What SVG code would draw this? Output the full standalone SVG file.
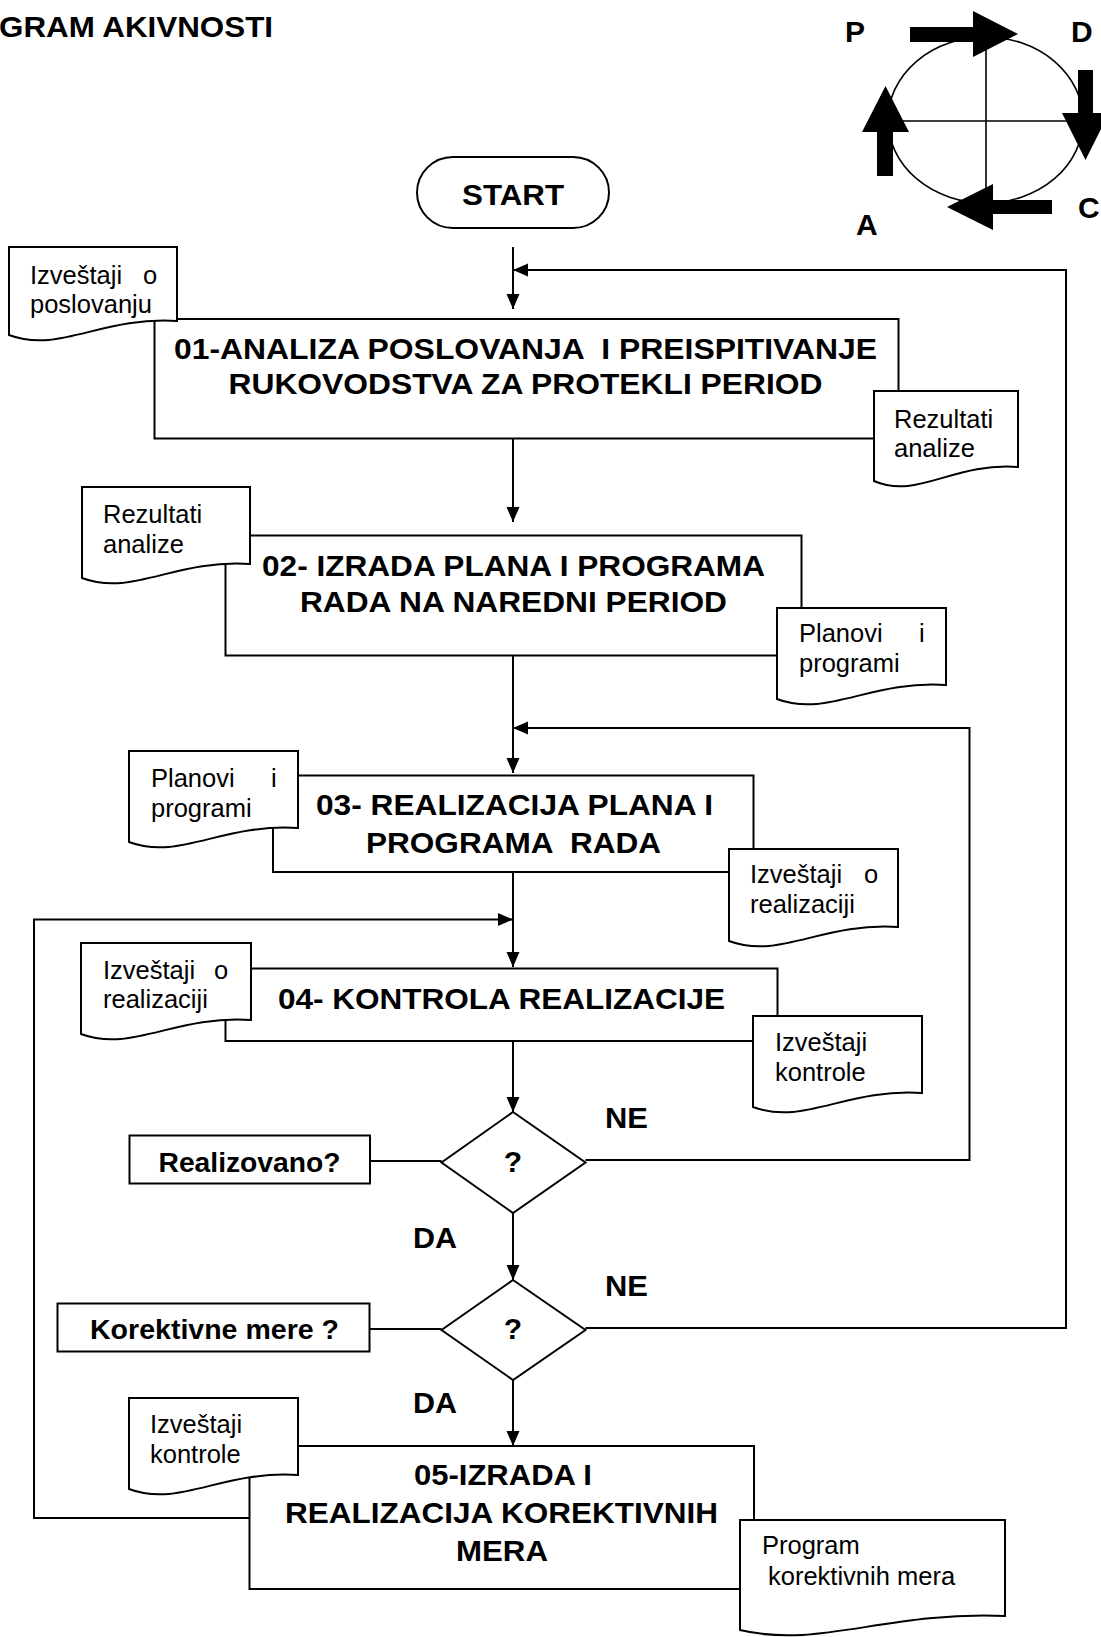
<svg xmlns="http://www.w3.org/2000/svg" width="1101" height="1637" viewBox="0 0 1101 1637">
<style>
.ln{fill:none;stroke:#000;stroke-width:2}
.bx{fill:#fff;stroke:#000;stroke-width:2}
.doc{fill:#fff;stroke:#000;stroke-width:2}
.t{font-family:"Liberation Sans",Arial,sans-serif;fill:#000}
.b{font-weight:bold;font-size:30px}
.d{font-size:25.5px}
.c{text-anchor:middle}
.blk{fill:#000;stroke:none}
.pl{font-weight:bold;font-size:30px}
</style>
<defs>
<marker id="ah" markerUnits="userSpaceOnUse" markerWidth="16" markerHeight="14" refX="15" refY="6.5" orient="auto">
<path d="M0,0 L15,6.5 L0,13 Z" fill="#000"/>
</marker>
</defs>
<rect width="1101" height="1637" fill="#fff"/>
<text class="t b" x="-1" y="37" textLength="274" lengthAdjust="spacingAndGlyphs">GRAM AKIVNOSTI</text>

<g id="pdca">
<ellipse cx="985.5" cy="120" rx="97.5" ry="83" fill="none" stroke="#000" stroke-width="1.6"/>
<line x1="986" y1="45" x2="986" y2="200" stroke="#000" stroke-width="1.6"/>
<line x1="888" y1="121" x2="1083" y2="121" stroke="#000" stroke-width="1.6"/>
<path class="blk" d="M910,27 H973 V11 L1018,34 L973,57 V42 H910 Z"/>
<path class="blk" d="M1078,70 H1093 V113 H1109 L1085.5,160 L1062,113 H1078 Z"/>
<path class="blk" d="M1052,200 V214 H993 V230 L947,207 L993,184 V200 Z"/>
<path class="blk" d="M877,176 V132 H862 L885.5,86 L909,132 H893 V176 Z"/>
<text class="t pl" x="845" y="42">P</text>
<text class="t pl" x="1071" y="42">D</text>
<text class="t pl" x="1078" y="218">C</text>
<text class="t pl" x="856" y="235">A</text>
</g>

<g id="connectors">
<path class="ln" d="M513,247 V309" marker-end="url(#ah)"/>
<path class="ln" d="M513,438.5 V522" marker-end="url(#ah)"/>
<path class="ln" d="M513,655.5 V773" marker-end="url(#ah)"/>
<path class="ln" d="M513,872 V967" marker-end="url(#ah)"/>
<path class="ln" d="M513,1041 V1112" marker-end="url(#ah)"/>
<path class="ln" d="M513,1213 V1280" marker-end="url(#ah)"/>
<path class="ln" d="M513,1380 V1446" marker-end="url(#ah)"/>
<path class="ln" d="M585.5,1328 H1066 V270 H513" marker-end="url(#ah)"/>
<path class="ln" d="M585.5,1160 H969.5 V728 H513" marker-end="url(#ah)"/>
<path class="ln" d="M249.5,1518 H34 V919.5 H513" marker-end="url(#ah)"/>
<path class="ln" d="M370,1161 H441.5"/>
<path class="ln" d="M369.5,1329 H441.5"/>
</g>

<g id="start">
<rect class="bx" x="417" y="157" width="192" height="71" rx="36"/>
<text class="t b c" x="513" y="205" textLength="102" lengthAdjust="spacingAndGlyphs">START</text>
</g>

<g id="n01">
<rect class="bx" x="154.5" y="319" width="744" height="119.5"/>
<text class="t b c" x="525.5" y="359" textLength="703" lengthAdjust="spacingAndGlyphs" style="white-space:pre">01-ANALIZA POSLOVANJA  I PREISPITIVANJE</text>
<text class="t b c" x="525.5" y="394" textLength="594" lengthAdjust="spacingAndGlyphs">RUKOVODSTVA ZA PROTEKLI PERIOD</text>
</g>
<g id="doc-izv-poslovanju">
<path class="doc" d="M9,247 H177 V321 C101.4,316 59.4,354 9,335 Z"/>
<text class="t d" x="30" y="284">Izveštaji <tspan x="143">o</tspan></text>
<text class="t d" x="30" y="313">poslovanju</text>
</g>
<g id="doc-rez-analize-1">
<path class="doc" d="M874,391 H1018 V467 C953.2,462 917.2,500 874,481 Z"/>
<text class="t d" x="894" y="428">Rezultati</text>
<text class="t d" x="894" y="457">analize</text>
</g>

<g id="n02">
<rect class="bx" x="225.5" y="535.5" width="576" height="120"/>
<text class="t b c" x="513.5" y="576" textLength="503" lengthAdjust="spacingAndGlyphs">02- IZRADA PLANA I PROGRAMA</text>
<text class="t b c" x="513.5" y="612" textLength="427" lengthAdjust="spacingAndGlyphs">RADA NA NAREDNI PERIOD</text>
</g>
<g id="doc-rez-analize-2">
<path class="doc" d="M82,487 H250 V564 C174.4,559 132.4,597 82,578 Z"/>
<text class="t d" x="103" y="523">Rezultati</text>
<text class="t d" x="103" y="553">analize</text>
</g>
<g id="doc-planovi-1">
<path class="doc" d="M777,608 H946 V685 C870,680 827.7,718 777,699 Z"/>
<text class="t d" x="799" y="642">Planovi <tspan x="919">i</tspan></text>
<text class="t d" x="799" y="672">programi</text>
</g>

<g id="n03">
<rect class="bx" x="273" y="775.5" width="480.5" height="96.5"/>
<text class="t b c" x="514.5" y="815" textLength="397" lengthAdjust="spacingAndGlyphs">03- REALIZACIJA PLANA I</text>
<text class="t b c" x="513.5" y="853" textLength="295" lengthAdjust="spacingAndGlyphs" style="white-space:pre">PROGRAMA  RADA</text>
</g>
<g id="doc-planovi-2">
<path class="doc" d="M129,751 H298 V828 C222,823 179.7,861 129,842 Z"/>
<text class="t d" x="151" y="787">Planovi <tspan x="271">i</tspan></text>
<text class="t d" x="151" y="817">programi</text>
</g>
<g id="doc-izv-realizaciji-1">
<path class="doc" d="M729,849 H898 V927 C822,922 779.7,960 729,941 Z"/>
<text class="t d" x="750" y="883">Izveštaji <tspan x="864">o</tspan></text>
<text class="t d" x="750" y="913">realizaciji</text>
</g>

<g id="n04">
<rect class="bx" x="225.5" y="968.5" width="552" height="72.5"/>
<text class="t b c" x="501.5" y="1009" textLength="447" lengthAdjust="spacingAndGlyphs">04- KONTROLA REALIZACIJE</text>
</g>
<g id="doc-izv-realizaciji-2">
<path class="doc" d="M81,943 H251 V1020 C174.5,1015 132,1053 81,1034 Z"/>
<text class="t d" x="103" y="979">Izveštaji <tspan x="214">o</tspan></text>
<text class="t d" x="103" y="1008">realizaciji</text>
</g>
<g id="doc-izv-kontrole-1">
<path class="doc" d="M753,1016 H922 V1093 C846,1088 803.7,1126 753,1107 Z"/>
<text class="t d" x="775" y="1051">Izveštaji</text>
<text class="t d" x="775" y="1081">kontrole</text>
</g>

<g id="q1">
<polygon class="bx" points="513,1112 585.5,1162.5 513,1213 441.5,1162.5"/>
<text class="t b c" x="513" y="1172" font-size="28">?</text>
</g>
<g id="lbl-realizovano">
<rect class="bx" x="129.5" y="1135.5" width="240.5" height="48"/>
<text class="t c" x="249.5" y="1172" font-weight="bold" font-size="27" textLength="182" lengthAdjust="spacingAndGlyphs">Realizovano?</text>
</g>
<text class="t b" x="605" y="1128" textLength="43" lengthAdjust="spacingAndGlyphs">NE</text>
<text class="t b" x="413" y="1248" textLength="44" lengthAdjust="spacingAndGlyphs">DA</text>

<g id="q2">
<polygon class="bx" points="513,1280 585.5,1330 513,1380 441.5,1330"/>
<text class="t b c" x="513" y="1339" font-size="28">?</text>
</g>
<g id="lbl-korektivne">
<rect class="bx" x="57.5" y="1303.5" width="312" height="48"/>
<text class="t" x="90" y="1339" font-weight="bold" font-size="27" textLength="249" lengthAdjust="spacingAndGlyphs">Korektivne mere ?</text>
</g>
<text class="t b" x="605" y="1296" textLength="43" lengthAdjust="spacingAndGlyphs">NE</text>
<text class="t b" x="413" y="1413" textLength="44" lengthAdjust="spacingAndGlyphs">DA</text>

<g id="n05">
<rect class="bx" x="249.5" y="1446" width="504.5" height="143"/>
<text class="t b c" x="503" y="1485" textLength="178" lengthAdjust="spacingAndGlyphs">05-IZRADA I</text>
<text class="t b c" x="501.5" y="1523" textLength="433" lengthAdjust="spacingAndGlyphs">REALIZACIJA KOREKTIVNIH</text>
<text class="t b c" x="502" y="1561" textLength="92" lengthAdjust="spacingAndGlyphs">MERA</text>
</g>
<g id="doc-izv-kontrole-2">
<path class="doc" d="M129,1398 H298 V1475 C222,1470 179.7,1508 129,1489 Z"/>
<text class="t d" x="150" y="1433">Izveštaji</text>
<text class="t d" x="150" y="1463">kontrole</text>
</g>
<g id="doc-program">
<path class="doc" d="M740,1520 H1005 V1616 C885.75,1611 819.5,1649 740,1630 Z"/>
<text class="t d" x="762" y="1554">Program</text>
<text class="t d" x="768" y="1585">korektivnih mera</text>
</g>
</svg>
